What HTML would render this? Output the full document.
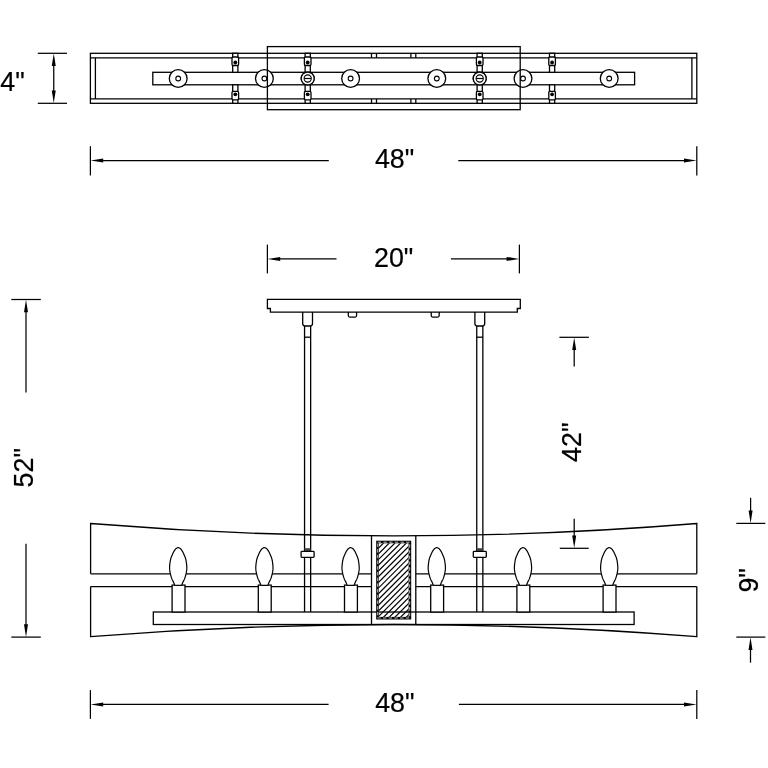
<!DOCTYPE html><html><head><meta charset="utf-8"><style>html,body{margin:0;padding:0;background:#fff;}svg{display:block;will-change:transform;}</style></head><body><svg width="768" height="768" viewBox="0 0 768 768"><rect width="768" height="768" fill="#fff"/><g stroke="#000" stroke-width="1.3" fill="none"><rect x="90.4" y="53.3" width="606.40" height="50.00" fill="none"/><line x1="90.40" y1="57.80" x2="696.80" y2="57.80" stroke-width="1.3"/><line x1="90.40" y1="98.90" x2="696.80" y2="98.90" stroke-width="1.3"/><line x1="95.40" y1="57.80" x2="95.40" y2="98.90" stroke-width="1.3"/><line x1="691.90" y1="57.80" x2="691.90" y2="98.90" stroke-width="1.3"/><line x1="371.50" y1="53.30" x2="371.50" y2="57.80" stroke-width="1.3"/><line x1="371.50" y1="98.90" x2="371.50" y2="103.30" stroke-width="1.3"/><line x1="376.50" y1="53.30" x2="376.50" y2="57.80" stroke-width="1.3"/><line x1="376.50" y1="98.90" x2="376.50" y2="103.30" stroke-width="1.3"/><line x1="410.90" y1="53.30" x2="410.90" y2="57.80" stroke-width="1.3"/><line x1="410.90" y1="98.90" x2="410.90" y2="103.30" stroke-width="1.3"/><line x1="415.80" y1="53.30" x2="415.80" y2="57.80" stroke-width="1.3"/><line x1="415.80" y1="98.90" x2="415.80" y2="103.30" stroke-width="1.3"/><rect x="152.8" y="72.3" width="481.80" height="12.50" fill="none"/><circle cx="178.20" cy="78.5" r="8.9" fill="#fff"/><circle cx="178.20" cy="78.5" r="2.4" fill="none" stroke-width="1.1"/><circle cx="264.40" cy="78.5" r="8.9" fill="#fff"/><circle cx="264.40" cy="78.5" r="2.4" fill="none" stroke-width="1.1"/><circle cx="350.60" cy="78.5" r="8.9" fill="#fff"/><circle cx="350.60" cy="78.5" r="2.4" fill="none" stroke-width="1.1"/><circle cx="436.80" cy="78.5" r="8.9" fill="#fff"/><circle cx="436.80" cy="78.5" r="2.4" fill="none" stroke-width="1.1"/><circle cx="523.00" cy="78.5" r="8.9" fill="#fff"/><circle cx="523.00" cy="78.5" r="2.4" fill="none" stroke-width="1.1"/><circle cx="609.20" cy="78.5" r="8.9" fill="#fff"/><circle cx="609.20" cy="78.5" r="2.4" fill="none" stroke-width="1.1"/><circle cx="307.70" cy="78.5" r="6.5" fill="#fff"/><circle cx="307.70" cy="78.5" r="3.6" fill="none" stroke-width="1.1"/><line x1="304.30" y1="78.50" x2="311.10" y2="78.50" stroke-width="1.2"/><circle cx="479.70" cy="78.5" r="6.5" fill="#fff"/><circle cx="479.70" cy="78.5" r="3.6" fill="none" stroke-width="1.1"/><line x1="476.30" y1="78.50" x2="483.10" y2="78.50" stroke-width="1.2"/><rect x="232.70" y="53.3" width="5.2" height="19.00" fill="#fff"/><rect x="232.00" y="57.0" width="6.6" height="8.5" rx="1.2" fill="#fff"/><circle cx="235.30" cy="62.5" r="1.9" fill="#000" stroke="none"/><rect x="232.70" y="84.8" width="5.2" height="18.50" fill="#fff"/><rect x="232.00" y="91.3" width="6.6" height="8.5" rx="1.2" fill="#fff"/><circle cx="235.30" cy="94.3" r="1.9" fill="#000" stroke="none"/><rect x="305.10" y="53.3" width="5.2" height="19.00" fill="#fff"/><rect x="304.40" y="57.0" width="6.6" height="8.5" rx="1.2" fill="#fff"/><circle cx="307.70" cy="62.5" r="1.9" fill="#000" stroke="none"/><rect x="305.10" y="84.8" width="5.2" height="18.50" fill="#fff"/><rect x="304.40" y="91.3" width="6.6" height="8.5" rx="1.2" fill="#fff"/><circle cx="307.70" cy="94.3" r="1.9" fill="#000" stroke="none"/><rect x="477.10" y="53.3" width="5.2" height="19.00" fill="#fff"/><rect x="476.40" y="57.0" width="6.6" height="8.5" rx="1.2" fill="#fff"/><circle cx="479.70" cy="62.5" r="1.9" fill="#000" stroke="none"/><rect x="477.10" y="84.8" width="5.2" height="18.50" fill="#fff"/><rect x="476.40" y="91.3" width="6.6" height="8.5" rx="1.2" fill="#fff"/><circle cx="479.70" cy="94.3" r="1.9" fill="#000" stroke="none"/><rect x="549.50" y="53.3" width="5.2" height="19.00" fill="#fff"/><rect x="548.80" y="57.0" width="6.6" height="8.5" rx="1.2" fill="#fff"/><circle cx="552.10" cy="62.5" r="1.9" fill="#000" stroke="none"/><rect x="549.50" y="84.8" width="5.2" height="18.50" fill="#fff"/><rect x="548.80" y="91.3" width="6.6" height="8.5" rx="1.2" fill="#fff"/><circle cx="552.10" cy="94.3" r="1.9" fill="#000" stroke="none"/><circle cx="307.70" cy="78.5" r="6.5" fill="#fff"/><circle cx="307.70" cy="78.5" r="3.6" fill="none" stroke-width="1.1"/><line x1="304.30" y1="78.50" x2="311.10" y2="78.50" stroke-width="1.2"/><circle cx="479.70" cy="78.5" r="6.5" fill="#fff"/><circle cx="479.70" cy="78.5" r="3.6" fill="none" stroke-width="1.1"/><line x1="476.30" y1="78.50" x2="483.10" y2="78.50" stroke-width="1.2"/><rect x="267.4" y="46.6" width="252.80" height="63.10" fill="none"/><line x1="37.80" y1="53.30" x2="67.00" y2="53.30" stroke-width="1.25"/><line x1="37.80" y1="103.30" x2="67.00" y2="103.30" stroke-width="1.25"/><line x1="53.75" y1="60.00" x2="53.75" y2="96.00" stroke-width="1.25"/><path d="M53.75,53.50 L51.75,66.10 L55.75,66.10 Z" fill="#000" stroke="none"/><path d="M53.75,103.10 L55.75,90.50 L51.75,90.50 Z" fill="#000" stroke="none"/><line x1="90.40" y1="146.20" x2="90.40" y2="175.50" stroke-width="1.25"/><line x1="696.80" y1="146.20" x2="696.80" y2="175.50" stroke-width="1.25"/><line x1="100.00" y1="160.60" x2="328.80" y2="160.60" stroke-width="1.25"/><line x1="458.30" y1="160.60" x2="687.00" y2="160.60" stroke-width="1.25"/><path d="M90.60,160.60 L103.20,162.60 L103.20,158.60 Z" fill="#000" stroke="none"/><path d="M696.60,160.60 L684.00,158.60 L684.00,162.60 Z" fill="#000" stroke="none"/><line x1="267.40" y1="244.60" x2="267.40" y2="273.40" stroke-width="1.25"/><line x1="519.40" y1="244.60" x2="519.40" y2="273.40" stroke-width="1.25"/><line x1="275.00" y1="258.90" x2="336.50" y2="258.90" stroke-width="1.25"/><line x1="451.00" y1="258.90" x2="512.00" y2="258.90" stroke-width="1.25"/><path d="M267.60,258.90 L280.20,260.90 L280.20,256.90 Z" fill="#000" stroke="none"/><path d="M519.20,258.90 L506.60,256.90 L506.60,260.90 Z" fill="#000" stroke="none"/><path d="M267.4,299.3 H520.3 V308.5 H517.3 V312.1 H270.4 V308.5 H267.4 Z" fill="none"/><path d="M348.3,312.1 V315.6 Q348.3,317.1 349.8,317.1 H355.1 Q356.6,317.1 356.6,315.6 V312.1" fill="none"/><path d="M431.2,312.1 V315.6 Q431.2,317.1 432.7,317.1 H437.7 Q439.2,317.1 439.2,315.6 V312.1" fill="none"/><path d="M302.70,312.1 V323.5 Q302.70,326 305.20,326 H310.00 Q312.50,326 312.50,323.5 V312.1" fill="none"/><line x1="304.55" y1="326.00" x2="304.55" y2="612.00" stroke-width="1.3"/><line x1="310.65" y1="326.00" x2="310.65" y2="612.00" stroke-width="1.3"/><line x1="304.55" y1="337.20" x2="310.65" y2="337.20" stroke-width="1.3"/><path d="M474.90,312.1 V323.5 Q474.90,326 477.40,326 H482.20 Q484.70,326 484.70,323.5 V312.1" fill="none"/><line x1="476.75" y1="326.00" x2="476.75" y2="612.00" stroke-width="1.3"/><line x1="482.85" y1="326.00" x2="482.85" y2="612.00" stroke-width="1.3"/><line x1="476.75" y1="337.20" x2="482.85" y2="337.20" stroke-width="1.3"/><path d="M90.6,573.8 V523.5 Q393.7,548.3 696.8,523.5 V573.8" fill="none"/><line x1="90.60" y1="573.80" x2="371.50" y2="573.80" stroke-width="1.3"/><line x1="415.80" y1="573.80" x2="696.80" y2="573.80" stroke-width="1.3"/><path d="M90.6,586.6 V636.7 Q393.7,612.3 696.8,636.7 V586.6" fill="none"/><line x1="90.60" y1="586.60" x2="371.50" y2="586.60" stroke-width="1.3"/><line x1="415.80" y1="586.60" x2="696.80" y2="586.60" stroke-width="1.3"/><rect x="153.3" y="612.0" width="480.80" height="12.50" fill="none"/><rect x="304.55" y="548.2" width="6.1" height="3.0" fill="#444" stroke="none"/><rect x="301.10" y="551.4" width="13" height="5.9" rx="0.8" fill="#fff"/><rect x="476.75" y="548.2" width="6.1" height="3.0" fill="#444" stroke="none"/><rect x="473.30" y="551.4" width="13" height="5.9" rx="0.8" fill="#fff"/><rect x="172.10" y="585.1" width="12.9" height="26.90" fill="#fff"/><path d="M178.20,547.50 L178.20,547.50 L178.37,547.58 L178.61,547.68 L178.89,547.79 L179.20,547.92 L179.52,548.07 L179.84,548.24 L180.14,548.41 L180.40,548.60 L180.63,548.80 L180.85,549.03 L181.06,549.27 L181.26,549.52 L181.45,549.78 L181.64,550.05 L181.82,550.32 L182.00,550.60 L182.17,550.86 L182.32,551.09 L182.46,551.31 L182.60,551.55 L182.75,551.82 L182.90,552.14 L183.09,552.53 L183.30,553.00 L183.56,553.56 L183.85,554.20 L184.18,554.90 L184.51,555.65 L184.85,556.45 L185.17,557.27 L185.45,558.13 L185.70,559.00 L185.91,559.92 L186.10,560.92 L186.28,561.96 L186.43,563.03 L186.56,564.10 L186.67,565.13 L186.75,566.11 L186.80,567.00 L186.82,567.81 L186.81,568.56 L186.77,569.25 L186.71,569.92 L186.62,570.56 L186.53,571.20 L186.42,571.84 L186.30,572.50 L186.17,573.18 L186.02,573.87 L185.86,574.56 L185.68,575.24 L185.49,575.92 L185.30,576.57 L185.10,577.20 L184.90,577.80 L184.69,578.37 L184.47,578.90 L184.24,579.42 L184.01,579.91 L183.77,580.39 L183.54,580.87 L183.31,581.33 L183.10,581.80 L182.89,582.29 L182.67,582.79 L182.45,583.30 L182.24,583.80 L182.04,584.27 L181.86,584.68 L181.71,585.03 L181.60,585.30 L174.69,585.03 L174.54,584.68 L174.36,584.27 L174.16,583.80 L173.95,583.30 L173.73,582.79 L173.51,582.29 L173.30,581.80 L173.09,581.33 L172.86,580.87 L172.63,580.39 L172.39,579.91 L172.16,579.42 L171.93,578.90 L171.71,578.37 L171.50,577.80 L171.30,577.20 L171.10,576.57 L170.91,575.92 L170.72,575.24 L170.54,574.56 L170.38,573.87 L170.23,573.18 L170.10,572.50 L169.98,571.84 L169.87,571.20 L169.78,570.56 L169.69,569.92 L169.63,569.25 L169.59,568.56 L169.58,567.81 L169.60,567.00 L169.65,566.11 L169.73,565.13 L169.84,564.10 L169.97,563.03 L170.12,561.96 L170.30,560.92 L170.49,559.92 L170.70,559.00 L170.95,558.13 L171.23,557.27 L171.55,556.45 L171.89,555.65 L172.22,554.90 L172.55,554.20 L172.84,553.56 L173.10,553.00 L173.31,552.53 L173.50,552.14 L173.65,551.82 L173.80,551.55 L173.94,551.31 L174.08,551.09 L174.23,550.86 L174.40,550.60 L174.58,550.32 L174.76,550.05 L174.95,549.78 L175.14,549.52 L175.34,549.27 L175.55,549.03 L175.77,548.80 L176.00,548.60 L176.26,548.41 L176.56,548.24 L176.88,548.07 L177.20,547.92 L177.51,547.79 L177.79,547.68 L178.03,547.58 L178.20,547.50 Z" fill="#fff" stroke-width="1.2" stroke-linejoin="round"/><rect x="258.30" y="585.1" width="12.9" height="26.90" fill="#fff"/><path d="M264.40,547.50 L264.40,547.50 L264.57,547.58 L264.81,547.68 L265.09,547.79 L265.40,547.92 L265.72,548.07 L266.04,548.24 L266.34,548.41 L266.60,548.60 L266.83,548.80 L267.05,549.03 L267.26,549.27 L267.46,549.52 L267.65,549.78 L267.84,550.05 L268.02,550.32 L268.20,550.60 L268.37,550.86 L268.52,551.09 L268.66,551.31 L268.80,551.55 L268.95,551.82 L269.10,552.14 L269.29,552.53 L269.50,553.00 L269.76,553.56 L270.05,554.20 L270.38,554.90 L270.71,555.65 L271.05,556.45 L271.37,557.27 L271.65,558.13 L271.90,559.00 L272.11,559.92 L272.30,560.92 L272.48,561.96 L272.63,563.03 L272.76,564.10 L272.87,565.13 L272.95,566.11 L273.00,567.00 L273.02,567.81 L273.01,568.56 L272.97,569.25 L272.91,569.92 L272.82,570.56 L272.73,571.20 L272.62,571.84 L272.50,572.50 L272.37,573.18 L272.22,573.87 L272.06,574.56 L271.88,575.24 L271.69,575.92 L271.50,576.57 L271.30,577.20 L271.10,577.80 L270.89,578.37 L270.67,578.90 L270.44,579.42 L270.21,579.91 L269.97,580.39 L269.74,580.87 L269.51,581.33 L269.30,581.80 L269.09,582.29 L268.87,582.79 L268.65,583.30 L268.44,583.80 L268.24,584.27 L268.06,584.68 L267.91,585.03 L267.80,585.30 L260.89,585.03 L260.74,584.68 L260.56,584.27 L260.36,583.80 L260.15,583.30 L259.93,582.79 L259.71,582.29 L259.50,581.80 L259.29,581.33 L259.06,580.87 L258.83,580.39 L258.59,579.91 L258.36,579.42 L258.13,578.90 L257.91,578.37 L257.70,577.80 L257.50,577.20 L257.30,576.57 L257.11,575.92 L256.92,575.24 L256.74,574.56 L256.58,573.87 L256.43,573.18 L256.30,572.50 L256.18,571.84 L256.07,571.20 L255.98,570.56 L255.89,569.92 L255.83,569.25 L255.79,568.56 L255.78,567.81 L255.80,567.00 L255.85,566.11 L255.93,565.13 L256.04,564.10 L256.17,563.03 L256.32,561.96 L256.50,560.92 L256.69,559.92 L256.90,559.00 L257.15,558.13 L257.43,557.27 L257.75,556.45 L258.09,555.65 L258.42,554.90 L258.75,554.20 L259.04,553.56 L259.30,553.00 L259.51,552.53 L259.70,552.14 L259.85,551.82 L260.00,551.55 L260.14,551.31 L260.28,551.09 L260.43,550.86 L260.60,550.60 L260.78,550.32 L260.96,550.05 L261.15,549.78 L261.34,549.52 L261.54,549.27 L261.75,549.03 L261.97,548.80 L262.20,548.60 L262.46,548.41 L262.76,548.24 L263.08,548.07 L263.40,547.92 L263.71,547.79 L263.99,547.68 L264.23,547.58 L264.40,547.50 Z" fill="#fff" stroke-width="1.2" stroke-linejoin="round"/><rect x="344.50" y="585.1" width="12.9" height="26.90" fill="#fff"/><path d="M350.60,547.50 L350.60,547.50 L350.77,547.58 L351.01,547.68 L351.29,547.79 L351.60,547.92 L351.92,548.07 L352.24,548.24 L352.54,548.41 L352.80,548.60 L353.03,548.80 L353.25,549.03 L353.46,549.27 L353.66,549.52 L353.85,549.78 L354.04,550.05 L354.22,550.32 L354.40,550.60 L354.57,550.86 L354.72,551.09 L354.86,551.31 L355.00,551.55 L355.15,551.82 L355.30,552.14 L355.49,552.53 L355.70,553.00 L355.96,553.56 L356.25,554.20 L356.58,554.90 L356.91,555.65 L357.25,556.45 L357.57,557.27 L357.85,558.13 L358.10,559.00 L358.31,559.92 L358.50,560.92 L358.68,561.96 L358.83,563.03 L358.96,564.10 L359.07,565.13 L359.15,566.11 L359.20,567.00 L359.22,567.81 L359.21,568.56 L359.17,569.25 L359.11,569.92 L359.02,570.56 L358.93,571.20 L358.82,571.84 L358.70,572.50 L358.57,573.18 L358.42,573.87 L358.26,574.56 L358.08,575.24 L357.89,575.92 L357.70,576.57 L357.50,577.20 L357.30,577.80 L357.09,578.37 L356.87,578.90 L356.64,579.42 L356.41,579.91 L356.17,580.39 L355.94,580.87 L355.71,581.33 L355.50,581.80 L355.29,582.29 L355.07,582.79 L354.85,583.30 L354.64,583.80 L354.44,584.27 L354.26,584.68 L354.11,585.03 L354.00,585.30 L347.09,585.03 L346.94,584.68 L346.76,584.27 L346.56,583.80 L346.35,583.30 L346.13,582.79 L345.91,582.29 L345.70,581.80 L345.49,581.33 L345.26,580.87 L345.03,580.39 L344.79,579.91 L344.56,579.42 L344.33,578.90 L344.11,578.37 L343.90,577.80 L343.70,577.20 L343.50,576.57 L343.31,575.92 L343.12,575.24 L342.94,574.56 L342.78,573.87 L342.63,573.18 L342.50,572.50 L342.38,571.84 L342.27,571.20 L342.18,570.56 L342.09,569.92 L342.03,569.25 L341.99,568.56 L341.98,567.81 L342.00,567.00 L342.05,566.11 L342.13,565.13 L342.24,564.10 L342.37,563.03 L342.52,561.96 L342.70,560.92 L342.89,559.92 L343.10,559.00 L343.35,558.13 L343.63,557.27 L343.95,556.45 L344.29,555.65 L344.62,554.90 L344.95,554.20 L345.24,553.56 L345.50,553.00 L345.71,552.53 L345.90,552.14 L346.05,551.82 L346.20,551.55 L346.34,551.31 L346.48,551.09 L346.63,550.86 L346.80,550.60 L346.98,550.32 L347.16,550.05 L347.35,549.78 L347.54,549.52 L347.74,549.27 L347.95,549.03 L348.17,548.80 L348.40,548.60 L348.66,548.41 L348.96,548.24 L349.28,548.07 L349.60,547.92 L349.91,547.79 L350.19,547.68 L350.43,547.58 L350.60,547.50 Z" fill="#fff" stroke-width="1.2" stroke-linejoin="round"/><rect x="430.70" y="585.1" width="12.9" height="26.90" fill="#fff"/><path d="M436.80,547.50 L436.80,547.50 L436.97,547.58 L437.21,547.68 L437.49,547.79 L437.80,547.92 L438.12,548.07 L438.44,548.24 L438.74,548.41 L439.00,548.60 L439.23,548.80 L439.45,549.03 L439.66,549.27 L439.86,549.52 L440.05,549.78 L440.24,550.05 L440.42,550.32 L440.60,550.60 L440.77,550.86 L440.92,551.09 L441.06,551.31 L441.20,551.55 L441.35,551.82 L441.50,552.14 L441.69,552.53 L441.90,553.00 L442.16,553.56 L442.45,554.20 L442.78,554.90 L443.11,555.65 L443.45,556.45 L443.77,557.27 L444.05,558.13 L444.30,559.00 L444.51,559.92 L444.70,560.92 L444.88,561.96 L445.03,563.03 L445.16,564.10 L445.27,565.13 L445.35,566.11 L445.40,567.00 L445.42,567.81 L445.41,568.56 L445.37,569.25 L445.31,569.92 L445.22,570.56 L445.13,571.20 L445.02,571.84 L444.90,572.50 L444.77,573.18 L444.62,573.87 L444.46,574.56 L444.28,575.24 L444.09,575.92 L443.90,576.57 L443.70,577.20 L443.50,577.80 L443.29,578.37 L443.07,578.90 L442.84,579.42 L442.61,579.91 L442.37,580.39 L442.14,580.87 L441.91,581.33 L441.70,581.80 L441.49,582.29 L441.27,582.79 L441.05,583.30 L440.84,583.80 L440.64,584.27 L440.46,584.68 L440.31,585.03 L440.20,585.30 L433.29,585.03 L433.14,584.68 L432.96,584.27 L432.76,583.80 L432.55,583.30 L432.33,582.79 L432.11,582.29 L431.90,581.80 L431.69,581.33 L431.46,580.87 L431.23,580.39 L430.99,579.91 L430.76,579.42 L430.53,578.90 L430.31,578.37 L430.10,577.80 L429.90,577.20 L429.70,576.57 L429.51,575.92 L429.32,575.24 L429.14,574.56 L428.98,573.87 L428.83,573.18 L428.70,572.50 L428.58,571.84 L428.47,571.20 L428.38,570.56 L428.29,569.92 L428.23,569.25 L428.19,568.56 L428.18,567.81 L428.20,567.00 L428.25,566.11 L428.33,565.13 L428.44,564.10 L428.57,563.03 L428.72,561.96 L428.90,560.92 L429.09,559.92 L429.30,559.00 L429.55,558.13 L429.83,557.27 L430.15,556.45 L430.49,555.65 L430.82,554.90 L431.15,554.20 L431.44,553.56 L431.70,553.00 L431.91,552.53 L432.10,552.14 L432.25,551.82 L432.40,551.55 L432.54,551.31 L432.68,551.09 L432.83,550.86 L433.00,550.60 L433.18,550.32 L433.36,550.05 L433.55,549.78 L433.74,549.52 L433.94,549.27 L434.15,549.03 L434.37,548.80 L434.60,548.60 L434.86,548.41 L435.16,548.24 L435.48,548.07 L435.80,547.92 L436.11,547.79 L436.39,547.68 L436.63,547.58 L436.80,547.50 Z" fill="#fff" stroke-width="1.2" stroke-linejoin="round"/><rect x="516.90" y="585.1" width="12.9" height="26.90" fill="#fff"/><path d="M523.00,547.50 L523.00,547.50 L523.17,547.58 L523.41,547.68 L523.69,547.79 L524.00,547.92 L524.32,548.07 L524.64,548.24 L524.94,548.41 L525.20,548.60 L525.43,548.80 L525.65,549.03 L525.86,549.27 L526.06,549.52 L526.25,549.78 L526.44,550.05 L526.62,550.32 L526.80,550.60 L526.97,550.86 L527.12,551.09 L527.26,551.31 L527.40,551.55 L527.55,551.82 L527.70,552.14 L527.89,552.53 L528.10,553.00 L528.36,553.56 L528.65,554.20 L528.98,554.90 L529.31,555.65 L529.65,556.45 L529.97,557.27 L530.25,558.13 L530.50,559.00 L530.71,559.92 L530.90,560.92 L531.08,561.96 L531.23,563.03 L531.36,564.10 L531.47,565.13 L531.55,566.11 L531.60,567.00 L531.62,567.81 L531.61,568.56 L531.57,569.25 L531.51,569.92 L531.42,570.56 L531.33,571.20 L531.22,571.84 L531.10,572.50 L530.97,573.18 L530.82,573.87 L530.66,574.56 L530.48,575.24 L530.29,575.92 L530.10,576.57 L529.90,577.20 L529.70,577.80 L529.49,578.37 L529.27,578.90 L529.04,579.42 L528.81,579.91 L528.57,580.39 L528.34,580.87 L528.11,581.33 L527.90,581.80 L527.69,582.29 L527.47,582.79 L527.25,583.30 L527.04,583.80 L526.84,584.27 L526.66,584.68 L526.51,585.03 L526.40,585.30 L519.49,585.03 L519.34,584.68 L519.16,584.27 L518.96,583.80 L518.75,583.30 L518.53,582.79 L518.31,582.29 L518.10,581.80 L517.89,581.33 L517.66,580.87 L517.43,580.39 L517.19,579.91 L516.96,579.42 L516.73,578.90 L516.51,578.37 L516.30,577.80 L516.10,577.20 L515.90,576.57 L515.71,575.92 L515.52,575.24 L515.34,574.56 L515.18,573.87 L515.03,573.18 L514.90,572.50 L514.78,571.84 L514.67,571.20 L514.58,570.56 L514.49,569.92 L514.43,569.25 L514.39,568.56 L514.38,567.81 L514.40,567.00 L514.45,566.11 L514.53,565.13 L514.64,564.10 L514.77,563.03 L514.92,561.96 L515.10,560.92 L515.29,559.92 L515.50,559.00 L515.75,558.13 L516.03,557.27 L516.35,556.45 L516.69,555.65 L517.02,554.90 L517.35,554.20 L517.64,553.56 L517.90,553.00 L518.11,552.53 L518.30,552.14 L518.45,551.82 L518.60,551.55 L518.74,551.31 L518.88,551.09 L519.03,550.86 L519.20,550.60 L519.38,550.32 L519.56,550.05 L519.75,549.78 L519.94,549.52 L520.14,549.27 L520.35,549.03 L520.57,548.80 L520.80,548.60 L521.06,548.41 L521.36,548.24 L521.68,548.07 L522.00,547.92 L522.31,547.79 L522.59,547.68 L522.83,547.58 L523.00,547.50 Z" fill="#fff" stroke-width="1.2" stroke-linejoin="round"/><rect x="603.10" y="585.1" width="12.9" height="26.90" fill="#fff"/><path d="M609.20,547.50 L609.20,547.50 L609.37,547.58 L609.61,547.68 L609.89,547.79 L610.20,547.92 L610.52,548.07 L610.84,548.24 L611.14,548.41 L611.40,548.60 L611.63,548.80 L611.85,549.03 L612.06,549.27 L612.26,549.52 L612.45,549.78 L612.64,550.05 L612.82,550.32 L613.00,550.60 L613.17,550.86 L613.32,551.09 L613.46,551.31 L613.60,551.55 L613.75,551.82 L613.90,552.14 L614.09,552.53 L614.30,553.00 L614.56,553.56 L614.85,554.20 L615.18,554.90 L615.51,555.65 L615.85,556.45 L616.17,557.27 L616.45,558.13 L616.70,559.00 L616.91,559.92 L617.10,560.92 L617.28,561.96 L617.43,563.03 L617.56,564.10 L617.67,565.13 L617.75,566.11 L617.80,567.00 L617.82,567.81 L617.81,568.56 L617.77,569.25 L617.71,569.92 L617.62,570.56 L617.53,571.20 L617.42,571.84 L617.30,572.50 L617.17,573.18 L617.02,573.87 L616.86,574.56 L616.68,575.24 L616.49,575.92 L616.30,576.57 L616.10,577.20 L615.90,577.80 L615.69,578.37 L615.47,578.90 L615.24,579.42 L615.01,579.91 L614.77,580.39 L614.54,580.87 L614.31,581.33 L614.10,581.80 L613.89,582.29 L613.67,582.79 L613.45,583.30 L613.24,583.80 L613.04,584.27 L612.86,584.68 L612.71,585.03 L612.60,585.30 L605.69,585.03 L605.54,584.68 L605.36,584.27 L605.16,583.80 L604.95,583.30 L604.73,582.79 L604.51,582.29 L604.30,581.80 L604.09,581.33 L603.86,580.87 L603.63,580.39 L603.39,579.91 L603.16,579.42 L602.93,578.90 L602.71,578.37 L602.50,577.80 L602.30,577.20 L602.10,576.57 L601.91,575.92 L601.72,575.24 L601.54,574.56 L601.38,573.87 L601.23,573.18 L601.10,572.50 L600.98,571.84 L600.87,571.20 L600.78,570.56 L600.69,569.92 L600.63,569.25 L600.59,568.56 L600.58,567.81 L600.60,567.00 L600.65,566.11 L600.73,565.13 L600.84,564.10 L600.97,563.03 L601.12,561.96 L601.30,560.92 L601.49,559.92 L601.70,559.00 L601.95,558.13 L602.23,557.27 L602.55,556.45 L602.89,555.65 L603.22,554.90 L603.55,554.20 L603.84,553.56 L604.10,553.00 L604.31,552.53 L604.50,552.14 L604.65,551.82 L604.80,551.55 L604.94,551.31 L605.08,551.09 L605.23,550.86 L605.40,550.60 L605.58,550.32 L605.76,550.05 L605.95,549.78 L606.14,549.52 L606.34,549.27 L606.55,549.03 L606.77,548.80 L607.00,548.60 L607.26,548.41 L607.56,548.24 L607.88,548.07 L608.20,547.92 L608.51,547.79 L608.79,547.68 L609.03,547.58 L609.20,547.50 Z" fill="#fff" stroke-width="1.2" stroke-linejoin="round"/><line x1="371.50" y1="535.60" x2="371.50" y2="624.30" stroke-width="1.3"/><line x1="415.80" y1="535.60" x2="415.80" y2="624.30" stroke-width="1.3"/><clipPath id="hc"><rect x="378.8" y="543.3" width="29.8" height="73.6"/></clipPath><path d="M256.00,625 L346.00,535 M261.70,625 L351.70,535 M267.40,625 L357.40,535 M273.10,625 L363.10,535 M278.80,625 L368.80,535 M284.50,625 L374.50,535 M290.20,625 L380.20,535 M295.90,625 L385.90,535 M301.60,625 L391.60,535 M307.30,625 L397.30,535 M313.00,625 L403.00,535 M318.70,625 L408.70,535 M324.40,625 L414.40,535 M330.10,625 L420.10,535 M335.80,625 L425.80,535 M341.50,625 L431.50,535 M347.20,625 L437.20,535 M352.90,625 L442.90,535 M358.60,625 L448.60,535 M364.30,625 L454.30,535 M370.00,625 L460.00,535 M375.70,625 L465.70,535 M381.40,625 L471.40,535 M387.10,625 L477.10,535 M392.80,625 L482.80,535 M398.50,625 L488.50,535 M404.20,625 L494.20,535 M409.90,625 L499.90,535 M415.60,625 L505.60,535 M421.30,625 L511.30,535 M427.00,625 L517.00,535 M432.70,625 L522.70,535 M438.40,625 L528.40,535 M444.10,625 L534.10,535 M449.80,625 L539.80,535 M455.50,625 L545.50,535 M461.20,625 L551.20,535 M466.90,625 L556.90,535 M472.60,625 L562.60,535 M478.30,625 L568.30,535 M484.00,625 L574.00,535 M489.70,625 L579.70,535 M495.40,625 L585.40,535 M501.10,625 L591.10,535 M506.80,625 L596.80,535 M512.50,625 L602.50,535 M518.20,625 L608.20,535 M523.90,625 L613.90,535 M529.60,625 L619.60,535 M535.30,625 L625.30,535" clip-path="url(#hc)" stroke-width="1.2" fill="none"/><rect x="377.5" y="542.0" width="32.4" height="76.2" fill="none" stroke-width="2.6"/><rect x="377.7" y="542.2" width="32.0" height="75.8" fill="none" stroke="#fff" stroke-width="0.75" stroke-dasharray="3.4 2.3"/><line x1="11.30" y1="299.50" x2="40.80" y2="299.50" stroke-width="1.25"/><line x1="11.30" y1="637.10" x2="40.80" y2="637.10" stroke-width="1.25"/><line x1="26.00" y1="305.00" x2="26.00" y2="392.50" stroke-width="1.25"/><line x1="26.00" y1="543.80" x2="26.00" y2="630.00" stroke-width="1.25"/><path d="M26.00,299.70 L24.00,312.30 L28.00,312.30 Z" fill="#000" stroke="none"/><path d="M26.00,636.90 L28.00,624.30 L24.00,624.30 Z" fill="#000" stroke="none"/><line x1="559.40" y1="337.30" x2="588.90" y2="337.30" stroke-width="1.25"/><line x1="574.20" y1="345.00" x2="574.20" y2="366.50" stroke-width="1.25"/><path d="M574.20,337.50 L572.20,350.10 L576.20,350.10 Z" fill="#000" stroke="none"/><line x1="559.80" y1="548.30" x2="588.70" y2="548.30" stroke-width="1.25"/><line x1="574.20" y1="518.75" x2="574.20" y2="540.00" stroke-width="1.25"/><path d="M574.20,548.10 L576.20,535.50 L572.20,535.50 Z" fill="#000" stroke="none"/><line x1="736.30" y1="523.40" x2="765.30" y2="523.40" stroke-width="1.25"/><line x1="750.60" y1="497.80" x2="750.60" y2="515.00" stroke-width="1.25"/><path d="M750.60,523.20 L752.60,510.60 L748.60,510.60 Z" fill="#000" stroke="none"/><line x1="736.30" y1="637.10" x2="765.30" y2="637.10" stroke-width="1.25"/><line x1="750.50" y1="645.00" x2="750.50" y2="662.60" stroke-width="1.25"/><path d="M750.50,637.30 L748.50,649.90 L752.50,649.90 Z" fill="#000" stroke="none"/><line x1="90.40" y1="690.10" x2="90.40" y2="718.90" stroke-width="1.25"/><line x1="696.80" y1="690.10" x2="696.80" y2="718.90" stroke-width="1.25"/><line x1="100.00" y1="704.40" x2="328.60" y2="704.40" stroke-width="1.25"/><line x1="458.90" y1="704.40" x2="687.00" y2="704.40" stroke-width="1.25"/><path d="M90.60,704.40 L103.20,706.40 L103.20,702.40 Z" fill="#000" stroke="none"/><path d="M696.60,704.40 L684.00,702.40 L684.00,706.40 Z" fill="#000" stroke="none"/></g><g font-family="Liberation Sans, sans-serif" fill="#000" stroke="#000" stroke-width="0.2"><text transform="translate(0.22,90.68) scale(0.97,1)" font-size="27.7">4"</text><text transform="translate(374.92,168.44) scale(0.97,1)" font-size="27.7">48"</text><text transform="translate(373.98,266.50) scale(0.97,1)" font-size="27.7">20"</text><text transform="translate(375.14,711.80) scale(0.97,1)" font-size="27.7">48"</text><text transform="translate(33.10,487.38) rotate(-90) scale(0.97,1)" font-size="27.7">52"</text><text transform="translate(581.44,461.94) rotate(-90) scale(0.97,1)" font-size="27.7">42"</text><text transform="translate(758.10,592.56) rotate(-90) scale(0.97,1)" font-size="27.7">9"</text></g></svg></body></html>
